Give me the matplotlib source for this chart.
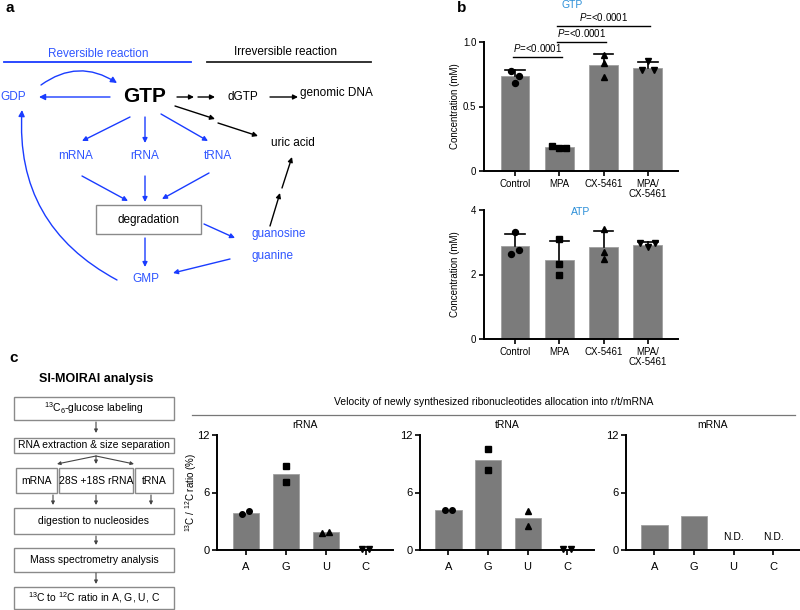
import matplotlib
matplotlib.use('Agg')
import matplotlib.pyplot as plt
from matplotlib.patches import FancyArrowPatch, Rectangle
import numpy as np

plt.rcParams['font.family'] = ['Liberation Sans', 'DejaVu Sans']
plt.rcParams['mathtext.fontset'] = 'custom'
plt.rcParams['mathtext.rm'] = 'Liberation Sans'
plt.rcParams['mathtext.it'] = 'Liberation Sans:italic'
plt.rcParams['mathtext.bf'] = 'Liberation Sans:bold'

# ---------------- data ----------------
groups = ['Control', 'MPA', 'CX-5461', 'MPA/\nCX-5461']
group_markers = ['o', 's', '^', 'v']

gtp_mean = [0.736, 0.186, 0.82, 0.80]
gtp_sd = [0.045, 0.008, 0.09, 0.045]
gtp_points = [[0.775, 0.74, 0.68], [0.19, 0.18, 0.18], [0.90, 0.84, 0.73], [0.85, 0.78, 0.78]]
gtp_jitter = [[-0.09, 0.09, 0.0], [-0.16, 0.0, 0.16], [0.0, 0.0, 0.0], [0.0, -0.14, 0.14]]
gtp_yticks = [0, 0.5, 1.0]
gtp_yticklabels = ['0', '0.5', '1.0']

atp_mean = [2.88, 2.45, 2.85, 2.91]
atp_sd = [0.38, 0.59, 0.50, 0.09]
atp_points = [[3.32, 2.63, 2.76], [3.10, 2.33, 1.98], [3.41, 2.70, 2.48], [2.98, 2.85, 2.98]]
atp_jitter = [[0.0, -0.09, 0.09], [0.0, 0.0, 0.0], [0.0, 0.0, 0.0], [-0.18, 0.0, 0.16]]
atp_yticks = [0, 2, 4]

pvals = ['$\\it{P}$=<0.0001', '$\\it{P}$=<0.0001', '$\\it{P}$=<0.0001']
pairs = [(0, 1), (1, 2), (1, 3)]
p_heights = [0.884, 1.0, 1.124]

bases = ['A', 'G', 'U', 'C']
base_markers = ['o', 's', '^', 'v']
rrna_mean = [3.9, 7.9, 1.9, 0.15]
rrna_points = [[3.8, 4.05], [8.8, 7.1], [1.75, 1.9], [0.15, 0.15]]
rrna_jitter = [[-0.09, 0.09], [0.0, 0.0], [-0.09, 0.09], [-0.09, 0.09]]
trna_mean = [4.2, 9.4, 3.3, 0.15]
trna_points = [[4.2, 4.2], [10.5, 8.3], [4.1, 2.5], [0.15, 0.15]]
trna_jitter = [[-0.09, 0.09], [0.0, 0.0], [0.0, 0.0], [-0.1, 0.1]]
mrna_mean = [2.6, 3.5, 0.0, 0.0]
mrna_nd = [False, False, True, True]
ratio_yticks = [0, 6, 12]

BLUE = '#1a3cff'
TBLUE = '#2f55ff'
TITLEBLUE = '#2c8fd8'
BAR = '#7b7b7b'
W, H = 800, 610

fig = plt.figure(figsize=(8, 6.1), dpi=100)

# overlay axes in pixel coordinates
ov = fig.add_axes([0, 0, 1, 1])
ov.set_xlim(0, W)
ov.set_ylim(H, 0)
ov.axis('off')
ov.patch.set_alpha(0)


def arrow(p0, p1, color='black', rad=0.0, lw=1.0, ms=9):
    a = FancyArrowPatch(p0, p1, arrowstyle='-|>', mutation_scale=ms, color=color,
                        lw=lw, connectionstyle=f'arc3,rad={rad}', shrinkA=0, shrinkB=0)
    ov.add_patch(a)


def txt(x, y, s, color='black', size=8.5, ha='center', va='center', **kw):
    ov.text(x, y, s, color=color, fontsize=size, ha=ha, va=va, **kw)


def box(x0, x1, y0, y1, ec='#8a8a8a', lw=1.0):
    ov.add_patch(Rectangle((x0, y0), x1 - x0, y1 - y0, fill=False, ec=ec, lw=lw))

# ---------------- panel a ----------------
txt(5, 8, 'a', size=11, weight='bold', ha='left')
txt(98, 54, 'Reversible reaction', color=TBLUE, size=8.5)
ov.plot([4, 191], [62, 62], color=BLUE, lw=1.3)
txt(286, 52, 'Irreversible reaction', size=8.5)
ov.plot([207, 371], [62, 62], color='#222222', lw=1.3)

txt(145, 97, 'GTP', size=15, weight='bold')
txt(0, 97, 'GDP', color=TBLUE, ha='left')
arrow((110, 97), (39, 97), BLUE)
arrow((41, 85), (117, 83), BLUE, rad=-0.34)
arrow((117, 280), (22, 110), BLUE, rad=-0.32)

arrow((177, 97), (194, 97), 'black', ms=7)
arrow((198, 97), (215, 97), 'black', ms=7)
txt(243, 97, 'dGTP')
arrow((270, 97), (298, 97), 'black', ms=7)
txt(300, 93, 'genomic DNA', ha='left')
arrow((175, 106), (215, 119), 'black', ms=7)
arrow((218, 123), (258, 136), 'black', ms=7)
txt(293, 143, 'uric acid')

arrow((130, 117), (82, 141), BLUE, ms=7)
arrow((145, 117), (145, 143), BLUE, ms=7)
arrow((161, 114), (208, 141), BLUE, ms=7)
txt(76, 156, 'mRNA', color=TBLUE)
txt(145, 156, 'rRNA', color=TBLUE)
txt(218, 156, 'tRNA', color=TBLUE)

arrow((82, 176), (128, 201), BLUE, ms=7)
arrow((145, 176), (145, 202), BLUE, ms=7)
arrow((209, 173), (162, 199), BLUE, ms=7)
box(96, 201, 205, 234, ec='#8a8a8a')
txt(148, 220, 'degradation')
arrow((204, 224), (235, 238), BLUE, ms=7)
txt(252, 234, 'guanosine', color=TBLUE, ha='left')
txt(252, 256, 'guanine', color=TBLUE, ha='left')
arrow((270, 226), (280, 193), 'black', ms=7)
arrow((282, 188), (292, 157), 'black', ms=7)
arrow((145, 238), (145, 267), BLUE, ms=7)
arrow((230, 259), (173, 273), BLUE, ms=7)
txt(146, 279, 'GMP', color=TBLUE)

# ---------------- panel b ----------------
txt(457, 8, 'b', size=11, weight='bold', ha='left')


def px_axes(l, r, t, b):
    return fig.add_axes([l / W, 1 - b / H, (r - l) / W, (b - t) / H])


def style(ax, size=7):
    for s in ['top', 'right']:
        ax.spines[s].set_visible(False)
    for s in ['left', 'bottom']:
        ax.spines[s].set_linewidth(1.4)
    ax.tick_params(width=1.2, length=3.5, labelsize=size, pad=2)
    ax.patch.set_alpha(0)


def bar_panel(ax, means, sds, pts, jit, yl, yticks, yticklabels=None):
    x = np.arange(len(means))
    ax.bar(x, means, width=0.65, color=BAR, edgecolor='#a0a0a0', lw=0.6, zorder=2)
    for i in range(len(means)):
        ax.plot([x[i], x[i]], [means[i], means[i] + sds[i]], color='black', lw=1.2, zorder=3)
        ax.plot([x[i] - 0.22, x[i] + 0.22], [means[i] + sds[i]] * 2, color='black', lw=1.2, zorder=3)
        ax.plot(x[i] + np.array(jit[i]), pts[i], linestyle='none', marker=group_markers[i],
                color='black', ms=4.3, zorder=4, clip_on=False)
    ax.set_xlim(-0.7, 3.68)
    ax.set_ylim(*yl)
    ax.set_yticks(yticks)
    if yticklabels:
        ax.set_yticklabels(yticklabels)
    ax.set_xticks(x)
    ax.set_xticklabels(groups, linespacing=1.0)
    ax.set_ylabel('Concentration (mM)', fontsize=7)
    ax.yaxis.set_label_coords(-0.125, 0.5)
    style(ax)


ax1 = px_axes(484, 678, 42, 171)
bar_panel(ax1, gtp_mean, gtp_sd, gtp_points, gtp_jitter, (0, 1.0), gtp_yticks, gtp_yticklabels)
for (a, b), h, p in zip(pairs, p_heights, pvals):
    ax1.plot([a - 0.05, b + 0.05], [h, h], color='black', lw=1.0, clip_on=False)
    ax1.text((a + b) / 2, h + 0.02, p, fontsize=7, ha='center', va='bottom', clip_on=False)
txt(572, 5, 'GTP', color=TITLEBLUE, size=7.5)

ax2 = px_axes(484, 678, 210, 339)
bar_panel(ax2, atp_mean, atp_sd, atp_points, atp_jitter, (0, 4), atp_yticks)
txt(581, 212, 'ATP', color=TITLEBLUE, size=7.5)

# ---------------- panel c ----------------
txt(9, 358, 'c', size=11, weight='bold', ha='left')
txt(96, 379, 'SI-MOIRAI analysis', size=9, weight='bold')
box(14, 174, 397, 420)
txt(94, 408.5, '$^{13}$C$_6$-glucose labeling', size=7.5)
arrow((96, 422), (96, 433), '#444444', lw=0.8, ms=5)
box(14, 174, 438, 453)
txt(94, 445.5, 'RNA extraction & size separation', size=7.5)
for xe in [57, 96, 134]:
    arrow((96, 456), (xe, 464), '#444444', lw=0.8, ms=5)
box(16, 57, 468, 493)
txt(36.5, 480.5, 'mRNA', size=7.5)
box(59, 133, 468, 493)
txt(96, 480.5, '28S +18S rRNA', size=7.5)
box(135, 173, 468, 493)
txt(154, 480.5, 'tRNA', size=7.5)
for xe in [53, 96, 151]:
    arrow((xe, 495), (xe, 505), '#444444', lw=0.8, ms=5)
box(14, 174, 508, 534)
txt(94, 521, 'digestion to nucleosides', size=7.5)
arrow((96, 536), (96, 545), '#444444', lw=0.8, ms=5)
box(14, 174, 548, 572)
txt(94, 560, 'Mass spectrometry analysis', size=7.5)
arrow((96, 573), (96, 584), '#444444', lw=0.8, ms=5)
box(14, 174, 587, 609)
txt(94, 598, '$^{13}$C to $^{12}$C ratio in A, G, U, C', size=7.5)

txt(494, 402, 'Velocity of newly synthesized ribonucleotides allocation into r/t/mRNA', size=7.5)
ov.plot([192, 795], [415, 415], color='#777777', lw=0.9)


def ratio_panel(ax, means, pts, jit, title, ylabel=False, nd=None):
    x = np.arange(len(means))
    ax.bar(x, means, width=0.66, color=BAR, edgecolor='#a0a0a0', lw=0.6, zorder=2)
    if pts is not None:
        for i in range(len(means)):
            ax.plot(x[i] + np.array(jit[i]), pts[i], linestyle='none', marker=base_markers[i],
                    color='black', ms=4, zorder=4, clip_on=False)
    if nd is not None:
        for i, f in enumerate(nd):
            if f:
                ax.text(x[i], 1.4, 'N.D.', fontsize=7.5, ha='center', va='center')
    ax.set_xlim(-0.72, 3.68)
    ax.set_ylim(0, 12)
    ax.set_yticks(ratio_yticks)
    ax.set_xticks(x)
    ax.set_xticklabels(bases)
    ax.set_title(title, fontsize=7.5, pad=5)
    if ylabel:
        ax.set_ylabel('$^{13}$C / $^{12}$C ratio (%)', fontsize=7)
        ax.yaxis.set_label_coords(-0.10, 0.5)
    style(ax, size=8)
    ax.tick_params(axis='x', pad=5)


ax3 = px_axes(217, 393, 435, 550)
ratio_panel(ax3, rrna_mean, rrna_points, rrna_jitter, 'rRNA', ylabel=True)
ax4 = px_axes(420, 594, 435, 550)
ratio_panel(ax4, trna_mean, trna_points, trna_jitter, 'tRNA')
ax5 = px_axes(626, 800, 435, 550)
ratio_panel(ax5, mrna_mean, None, None, 'mRNA', nd=mrna_nd)

fig.savefig('out.png', dpi=100)
